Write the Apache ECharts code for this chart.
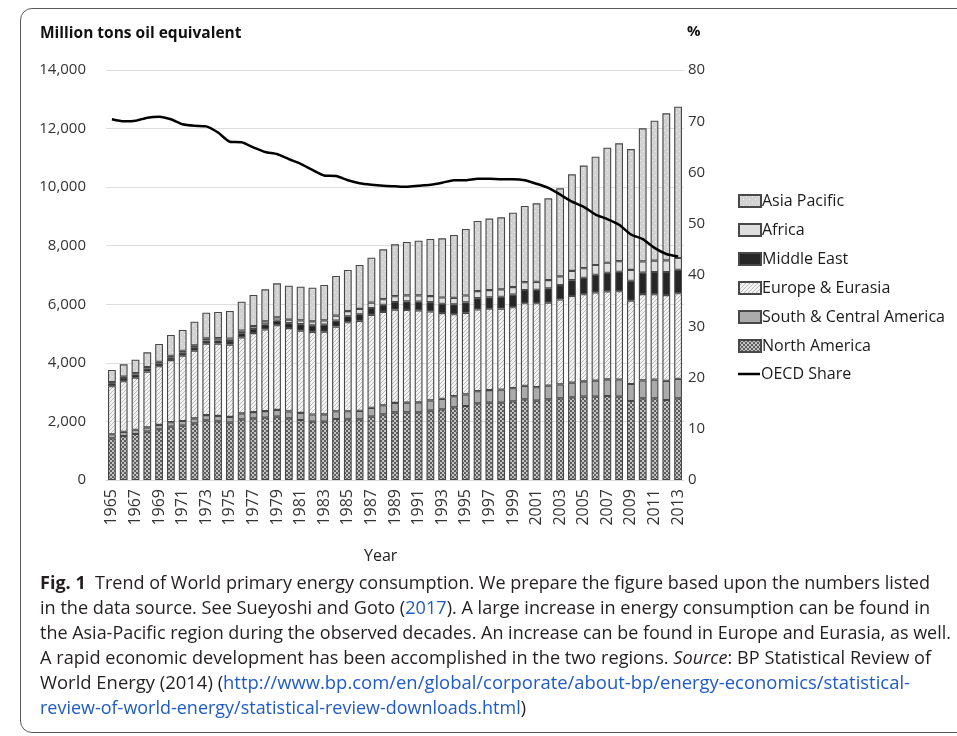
<!DOCTYPE html>
<html>
<head>
<meta charset="utf-8">
<script src="https://cdn.jsdelivr.net/npm/echarts@6/dist/echarts.min.js"></script>
<style>
  html, body { margin: 0; padding: 0; background: #fff; }
  #wrap { position: relative; width: 957px; height: 736px; overflow: hidden; }
  #box { position: absolute; left: 20px; top: 8px; width: 1000px; height: 725px;
         border: 1.5px solid #5a5a5a; border-radius: 12px; box-sizing: border-box; }
  #chart { position: absolute; left: 0; top: 0; width: 957px; height: 736px; }
  .cap { position: absolute; left: 40px; font-family: "Open Sans", sans-serif; font-size: 18px;
         color: #231f20; white-space: nowrap; transform-origin: 0 50%; line-height: 24px; }
  .cap b { font-weight: 700; }
  .cap a { color: #1f5bc8; text-decoration: none; }
</style>
</head>
<body>
<div id="wrap">
  <div id="box"></div>
  <div id="chart"></div>
  <div class="cap" data-w="890" style="top:570px"><b>Fig. 1</b>&nbsp; Trend of World primary energy consumption. We prepare the figure based upon the numbers listed</div>
  <div class="cap" data-w="890" style="top:595px">in the data source. See Sueyoshi and Goto (<a>2017</a>). A large increase in energy consumption can be found in</div>
  <div class="cap" data-w="911" style="top:620px">the Asia-Pacific region during the observed decades. An increase can be found in Europe and Eurasia, as well.</div>
  <div class="cap" data-w="891" style="top:645px">A rapid economic development has been accomplished in the two regions. <i>Source</i>: BP Statistical Review of</div>
  <div class="cap" data-w="870" style="top:670px">World Energy (2014) (<a>http://www.bp.com/en/global/corporate/about-bp/energy-economics/statistical-</a></div>
  <div class="cap" data-w="486" style="top:695px"><a>review-of-world-energy/statistical-review-downloads.html</a>)</div>
</div>
<script>
// ---- Data (Million tons oil equivalent; OECD share in %) ----
const years = ['1965','1966','1967','1968','1969','1970','1971','1972','1973','1974',
  '1975','1976','1977','1978','1979','1980','1981','1982','1983','1984',
  '1985','1986','1987','1988','1989','1990','1991','1992','1993','1994',
  '1995','1996','1997','1998','1999','2000','2001','2002','2003','2004',
  '2005','2006','2007','2008','2009','2010','2011','2012','2013'];

const northAmerica = [1423,1503,1571,1650,1730,1821,1855,1935,2038,2004,
  1958,2072,2106,2129,2163,2106,2049,1992,1992,2083,
  2072,2072,2163,2243,2311,2311,2311,2368,2413,2482,
  2527,2618,2641,2641,2686,2755,2709,2755,2789,2823,
  2846,2846,2869,2846,2698,2789,2789,2732,2789];

const southCentralAmerica = [140,142,145,150,152,155,160,170,180,185,
  195,205,215,225,230,235,240,245,250,265,
  275,290,300,310,320,330,340,350,360,380,
  395,415,430,445,450,460,460,465,475,500,
  525,545,570,585,580,610,640,655,665];

const europeEurasia = [1639,1730,1776,1901,2004,2118,2231,2311,2436,2470,
  2470,2595,2697,2789,2891,2845,2811,2823,2823,2891,
  3040,3073,3176,3187,3187,3165,3142,3039,2926,2800,
  2788,2789,2777,2766,2766,2823,2868,2835,2903,2960,
  2971,3016,3005,3017,2846,2949,2914,2926,2926];

const middleEast = [100,105,110,105,95,85,100,115,105,105,
  120,140,140,170,160,170,220,220,240,205,
  205,225,235,240,260,290,300,315,318,335,
  355,385,387,405,425,450,456,490,489,540,
  560,600,630,660,680,730,760,790,800];

const africa = [45,47,48,52,55,60,65,70,75,80,
  85,92,98,105,112,120,130,138,145,170,
  175,180,185,195,200,205,208,210,215,225,
  235,245,250,255,262,268,275,283,298,315,
  330,335,345,365,370,385,385,395,400];

const asiaPacific = [410,423,459,502,608,713,712,806,880,893,
  943,986,1062,1093,1160,1161,1152,1150,1209,1353,
  1405,1502,1534,1702,1770,1827,1872,1948,2021,2145,
  2272,2393,2440,2458,2540,2601,2680,2791,3007,3301,
  3503,3700,3930,4024,4126,4547,4783,5024,5169];

const oecdShare = [70.4,70.0,70.1,70.7,70.9,70.4,69.4,69.1,69.0,67.8,
  66.0,65.9,64.9,64.0,63.6,62.6,61.7,60.5,59.4,59.3,
  58.5,57.9,57.6,57.4,57.3,57.2,57.4,57.6,58.0,58.5,
  58.5,58.8,58.8,58.7,58.7,58.5,57.8,57.0,55.7,54.3,
  53.3,51.8,50.9,49.8,47.9,47.0,45.3,44.1,43.6];

const leftTicks = { min: 0, max: 14000, interval: 2000 };
const rightTicks = { min: 0, max: 80, interval: 10 };

// ---- Patterns ----
function pat(w, h, draw) {
  const c = document.createElement('canvas');
  c.width = w; c.height = h;
  const g = c.getContext('2d');
  draw(g);
  return { image: c, repeat: 'repeat' };
}
const patNA = pat(4, 4, g => {
  g.fillStyle = '#c4c4c4'; g.fillRect(0, 0, 4, 4);
  g.fillStyle = '#5e5e5e';
  g.fillRect(0, 0, 2, 2); g.fillRect(2, 2, 2, 2);
});
const patEU = pat(4, 4, g => {
  g.fillStyle = '#f3f3f3'; g.fillRect(0, 0, 4, 4);
  g.strokeStyle = '#bcbcbc'; g.lineWidth = 1;
  g.beginPath(); g.moveTo(-1, 1); g.lineTo(1, -1);
  g.moveTo(-1, 5); g.lineTo(5, -1); g.moveTo(3, 5); g.lineTo(5, 3); g.stroke();
});
const patAP = pat(6, 6, g => {
  g.fillStyle = '#d2d2d2'; g.fillRect(0, 0, 6, 6);
  g.fillStyle = '#f0f0f0';
  g.fillRect(1, 1, 1, 1); g.fillRect(4, 4, 1, 1);
});

const FONT = 'Open Sans';
const border = { borderColor: '#474747', borderWidth: 1.1 };
const legendText = { fontFamily: FONT, fontSize: 16, color: '#1a1a1a', padding: [0, 0, 0, -4], lineHeight: 18 };

const chart = echarts.init(document.getElementById('chart'), null, { renderer: 'canvas' });

function barSeries(name, data, color) {
  return {
    name, type: 'bar', stack: 'total', data, barWidth: '66%',
    itemStyle: Object.assign({ color }, border),
    emphasis: { disabled: true }
  };
}

chart.setOption({
  animation: false,
  textStyle: { fontFamily: FONT },
  grid: { left: 106, right: 273, top: 70, bottom: 256, containLabel: false },
  graphic: [
    { type: 'text', left: 40, top: 26, style: { text: 'Million tons oil equivalent', font: 'bold 15.5px "Open Sans"', fill: '#111' } },
    { type: 'text', left: 687, top: 24, style: { text: '%', font: 'bold 15px "Open Sans"', fill: '#111' } },
    { type: 'text', left: 364, top: 548, style: { text: 'Year', font: '16px "Open Sans"', fill: '#222' } }
  ],
  legend: [
    {
      orient: 'vertical', left: 738, top: 192, padding: 0,
      itemWidth: 22, itemHeight: 12, itemGap: 11, icon: 'rect',
      textStyle: legendText,
      data: ['Asia Pacific', 'Africa', 'Middle East', 'Europe & Eurasia', 'South & Central America', 'North America']
    },
    {
      orient: 'vertical', left: 738, top: 365, padding: 0,
      itemWidth: 22, itemHeight: 2.5, icon: 'rect',
      textStyle: legendText,
      data: ['OECD Share']
    }
  ],
  xAxis: {
    type: 'category', data: years,
    axisTick: { show: false },
    axisLine: { lineStyle: { color: '#d9d9d9', width: 1 } },
    axisLabel: { rotate: 90, interval: 1, fontSize: 16, color: '#333', margin: 9, fontFamily: FONT }
  },
  yAxis: [
    {
      type: 'value', min: leftTicks.min, max: leftTicks.max, interval: leftTicks.interval,
      axisLine: { show: false }, axisTick: { show: false },
      axisLabel: { fontSize: 15, color: '#333', margin: 20, fontFamily: FONT },
      splitLine: { lineStyle: { color: '#dedede', width: 1 } }
    },
    {
      type: 'value', min: rightTicks.min, max: rightTicks.max, interval: rightTicks.interval,
      position: 'right',
      axisLine: { show: false }, axisTick: { show: false },
      axisLabel: { fontSize: 15, color: '#333', margin: 4, fontFamily: FONT },
      splitLine: { show: false }
    }
  ],
  series: [
    barSeries('North America', northAmerica, patNA),
    barSeries('South & Central America', southCentralAmerica, '#ababab'),
    barSeries('Europe & Eurasia', europeEurasia, patEU),
    barSeries('Middle East', middleEast, '#262626'),
    barSeries('Africa', africa, '#dedede'),
    barSeries('Asia Pacific', asiaPacific, patAP),
    {
      name: 'OECD Share', type: 'line', yAxisIndex: 1, data: oecdShare,
      symbol: 'none', showSymbol: false, smooth: 0.2,
      lineStyle: { color: '#000', width: 2.5 }, itemStyle: { color: '#000', borderWidth: 0 },
      emphasis: { disabled: true }, z: 10
    }
  ]
});

// fit caption lines to their measured widths in the reference
document.querySelectorAll('.cap').forEach(el => {
  const w = el.getBoundingClientRect().width;
  const target = +el.dataset.w;
  el.style.transform = 'scaleX(' + (target / w) + ')';
});
</script>
</body>
</html>
